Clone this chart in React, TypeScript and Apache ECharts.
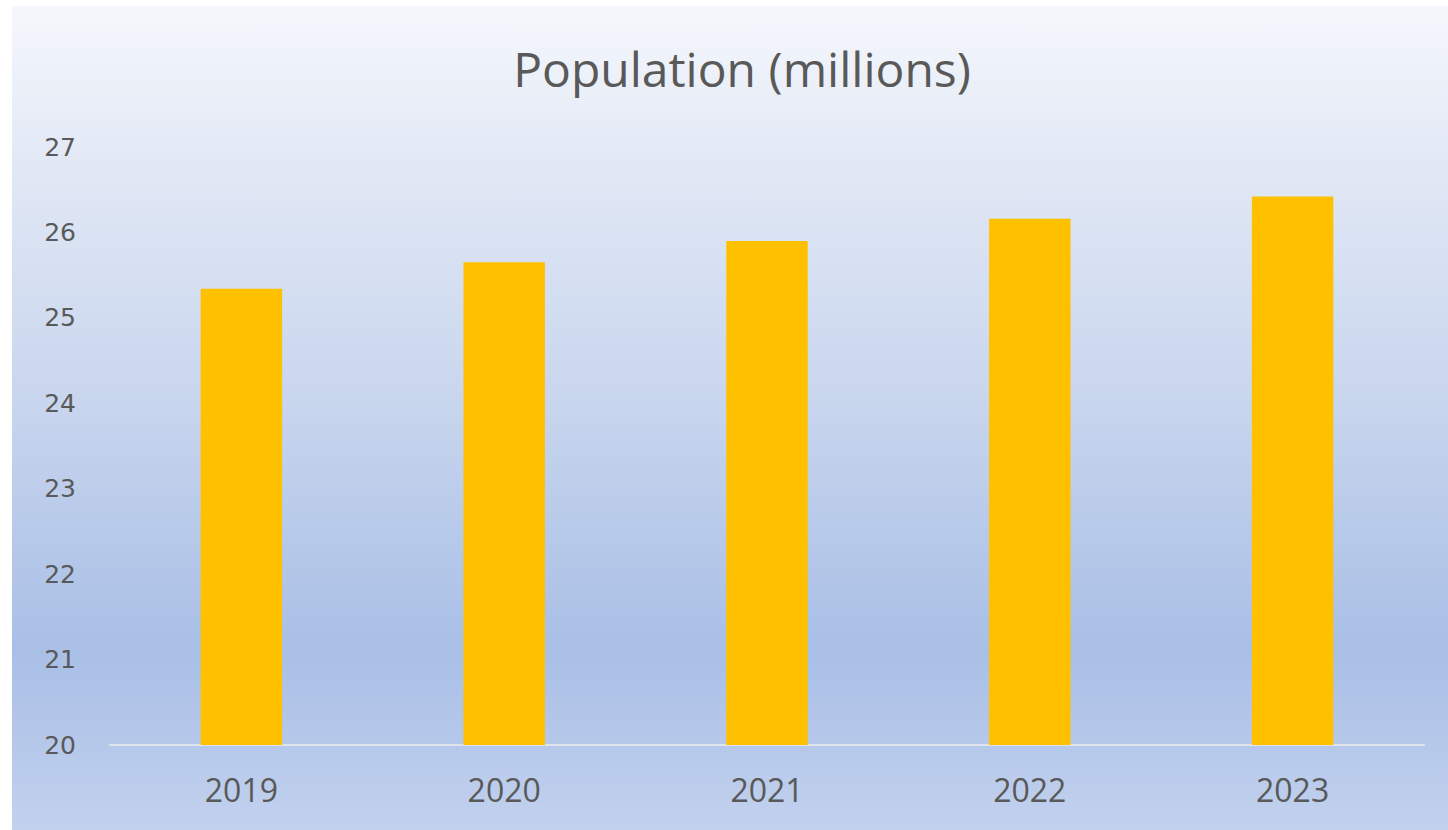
import React, { useEffect, useRef } from "react";
import * as echarts from "echarts";

const categories = ["2019", "2020", "2021", "2022", "2023"];
const population = [25.34, 25.65, 25.9, 26.16, 26.42];
const titleText = "Population (millions)";

export default function App() {
  const ref = useRef<HTMLDivElement>(null);
  useEffect(() => {
    document.body.style.margin = "0";
    if (!ref.current) return;
    const chart = echarts.init(ref.current, null, { renderer: "svg" });
    chart.setOption({
      animation: false,
      backgroundColor: {
        type: "linear",
        x: 0,
        y: 0,
        x2: 0,
        y2: 1,
        colorStops: [
          { offset: 0, color: "#f5f7fc" },
          { offset: 0.2, color: "#e1e8f5" },
          { offset: 0.5, color: "#c6d4ed" },
          { offset: 0.78, color: "#a9bfe6" },
          { offset: 1, color: "#c2d1ee" },
        ],
      },
      graphic: [
        {
          type: "text",
          x: 730,
          y: 38,
          style: {
            text: titleText,
            fontFamily: "Open Sans",
            fontSize: 48,
            fill: "#595959",
            textAlign: "center",
            textVerticalAlign: "top",
          },
        },
      ],
      grid: { left: 98, right: 24, top: 141, bottom: 85 },
      xAxis: {
        type: "category",
        data: categories,
        axisLine: { lineStyle: { color: "#dfe4ec", width: 2 } },
        axisTick: { show: false },
        axisLabel: {
          color: "#595959",
          fontSize: 32,
          fontFamily: "Open Sans",
          margin: 28,
        },
      },
      yAxis: {
        type: "value",
        min: 20,
        max: 27,
        interval: 1,
        splitLine: { show: false },
        axisLine: { show: false },
        axisTick: { show: false },
        axisLabel: {
          color: "#595959",
          fontSize: 25,
          fontFamily: "DejaVu Sans",
          margin: 34,
        },
      },
      series: [
        {
          type: "bar",
          data: population,
          barWidth: "31%",
          itemStyle: { color: "#ffc000" },
        },
      ],
    });
    return () => chart.dispose();
  }, []);
  return (
    <div style={{ width: 1448, height: 830, background: "#ffffff", position: "relative" }}>
      <div
        ref={ref}
        style={{ position: "absolute", left: 12, top: 6, width: 1436, height: 824 }}
      />
    </div>
  );
}
